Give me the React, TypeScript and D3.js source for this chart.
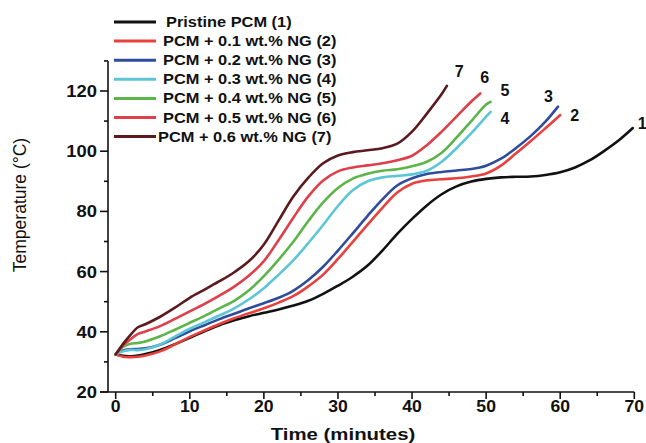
import { useMemo } from "react";
import * as d3 from "d3";

const W = 646;
const H = 443;

// time (minutes), temperature (°C)
const pristine = [[0,32.5],[1,32],[2,31.9],[3,32.1],[4,32.6],[6,34],[8,35.9],[10,38],[12,40.2],[14,42.2],[16,43.8],[18,45.2],[20,46.3],[22,47.4],[24,48.7],[26,50.3],[28,52.6],[30,55.3],[32,58.3],[34,62],[36,67],[38,72.5],[40,77.5],[42,82],[44,85.7],[46,88.3],[48,89.9],[50,90.8],[52,91.3],[54,91.5],[56,91.6],[58,92.1],[60,93],[62,94.6],[64,97],[66,100.2],[68,103.8],[69.8,107.7]];
const ng01 = [[0,32.5],[1,31.7],[2,31.6],[3,31.7],[4,32.1],[6,33.5],[8,35.8],[10,38.3],[12,40.5],[14,42.6],[16,44.5],[18,46.2],[20,47.8],[22,49.7],[24,51.9],[26,55.1],[28,59],[30,64.2],[32,69.9],[34,75.6],[36,81.2],[38,86.3],[40,89.2],[42,90.3],[44,90.7],[46,91],[48,91.6],[50,92.6],[52,95.2],[54,99.2],[56,103.3],[58,107.6],[60,112]];
const ng02 = [[0,32.5],[1,33.8],[2,34.2],[3,34.3],[4,34.5],[6,35.7],[8,37.9],[10,40.2],[12,42.2],[14,44.2],[16,46],[18,47.8],[20,49.5],[22,51.3],[24,53.7],[26,57.2],[28,61.6],[30,67],[32,72.7],[34,78.5],[36,84],[38,88.6],[40,91],[42,92.4],[44,93.1],[46,93.6],[48,94.1],[50,95.2],[52,97.5],[54,101],[56,105],[58,109.8],[59.7,114.8]];
const ng03 = [[0,32.5],[1,33.5],[2,34],[3,33.9],[4,34.2],[6,35.8],[8,38.4],[10,41],[12,43.2],[14,45.4],[16,47.8],[18,50.8],[20,54.5],[22,59],[24,63.8],[26,69.5],[28,75.5],[30,81.8],[32,87],[34,90],[36,91.3],[38,91.8],[40,92.3],[42,93.5],[44,96.5],[46,101],[48,106],[50,111.5],[50.6,113.1]];
const ng04 = [[0,32.5],[1,35],[2,36],[3,36.3],[4,36.8],[6,38.5],[8,40.7],[10,43],[12,45.3],[14,47.8],[16,50.3],[18,53.8],[20,58.5],[22,64],[24,70],[26,76.8],[28,83],[30,87.8],[32,90.9],[34,92.5],[36,93.5],[38,94],[40,95],[42,96.5],[44,99.5],[46,104.5],[48,110],[50,115.5],[50.6,116.4]];
const ng05 = [[0,32.5],[1,35.5],[2,37.5],[3,39.3],[4,40.1],[6,41.9],[8,44.3],[10,46.8],[12,49.3],[14,52],[16,55],[18,58.7],[20,63.5],[22,70.5],[24,78],[26,85],[28,90.3],[30,93.3],[32,94.6],[34,95.3],[36,96],[38,97],[40,98.5],[42,102],[44,106.5],[46,111.5],[48,116.5],[49.2,119.2]];
const ng06 = [[0,32.5],[1,36],[2,39],[3,41.5],[4,42.5],[6,45],[8,48],[10,51.3],[12,54],[14,56.8],[16,59.8],[18,63.5],[20,69],[22,77],[24,85],[26,91.2],[28,96],[30,98.6],[32,99.7],[34,100.3],[36,101],[38,102.5],[40,106.5],[42,112.5],[44,119],[44.7,121.7]];

const seriesNames = [
  "Pristine PCM (1)",
  "PCM + 0.1 wt.% NG (2)",
  "PCM + 0.2 wt.% NG (3)",
  "PCM + 0.3 wt.% NG (4)",
  "PCM + 0.4 wt.% NG (5)",
  "PCM + 0.5 wt.% NG (6)",
  "PCM + 0.6 wt.% NG (7)",
];
const endLabels = ["1", "2", "3", "4", "5", "6", "7"];
const colors = ["#111111", "#e8403c", "#2f4c9c", "#5cc6d6", "#5cb548", "#df3f4b", "#5a1a1e"];
const allSeries = [pristine, ng01, ng02, ng03, ng04, ng05, ng06];

const xTicks = [0, 10, 20, 30, 40, 50, 60, 70];
const xMinor = [5, 15, 25, 35, 45, 55, 65];
const yTicks = [20, 40, 60, 80, 100, 120];
const yMinor = [30, 50, 70, 90, 110, 130];

// where the number sits relative to the curve end (px)
const labelOffset = [[5, 1], [10, 6], [-14, -5], [10, 12], [10, -6], [0, -10], [8, -9]];

const FONT = "'Liberation Sans', Arial, sans-serif";

const App = () => {
  const x = useMemo(() => d3.scaleLinear().domain([0, 70]).range([115.7, 634.3]), []);
  const y = useMemo(() => d3.scaleLinear().domain([20, 120]).range([392, 91]), []);

  const line = d3
    .line<number[]>()
    .x((d) => x(d[0]))
    .y((d) => y(d[1]))
    .curve(d3.curveCatmullRom.alpha(0.5));

  const axisX = 108;
  const axisY = y(20);

  return (
    <svg width={W} height={H} style={{ position: "absolute", left: 0, top: 0, background: "#fff" }}>
      {/* curves */}
      {allSeries.map((s, i) => (
        <path key={i} d={line(s) || ""} fill="none" stroke={colors[i]} strokeWidth={2.6} strokeLinejoin="round" strokeLinecap="round" />
      ))}

      {/* end labels */}
      {allSeries.map((s, i) => {
        const last = s[s.length - 1];
        return (
          <text key={i} x={x(last[0]) + labelOffset[i][0]} y={y(last[1]) + labelOffset[i][1]}
            fontFamily={FONT} fontWeight="bold" fontSize={16} fill="#111">{endLabels[i]}</text>
        );
      })}

      {/* axes */}
      <g stroke="#111" strokeWidth={1.6}>
        <line x1={axisX} x2={axisX} y1={y(130)} y2={axisY} />
        <line x1={axisX - 8} x2={x(70)} y1={axisY} y2={axisY} />
        {yTicks.map((t) => <line key={t} x1={axisX - 8} x2={axisX} y1={y(t)} y2={y(t)} />)}
        {yMinor.map((t) => <line key={t} x1={axisX - 4} x2={axisX} y1={y(t)} y2={y(t)} />)}
        {xTicks.map((t) => <line key={t} x1={x(t)} x2={x(t)} y1={axisY} y2={axisY + 7} />)}
        {xMinor.map((t) => <line key={t} x1={x(t)} x2={x(t)} y1={axisY} y2={axisY + 4} />)}
      </g>
      {yTicks.map((t) => (
        <g key={t} transform={`translate(${axisX - 11},${y(t) + 6}) scale(1.15,1)`}>
          <text textAnchor="end" fontFamily={FONT} fontWeight="bold" fontSize={16} fill="#111">{t}</text>
        </g>
      ))}
      {xTicks.map((t) => (
        <g key={t} transform={`translate(${x(t)},${axisY + 19.5}) scale(1.1,1)`}>
          <text textAnchor="middle" fontFamily={FONT} fontWeight="bold" fontSize={16} fill="#111">{t}</text>
        </g>
      ))}

      {/* axis titles */}
      <g transform={`translate(343,440) scale(1.2,1)`}>
        <text textAnchor="middle" fontFamily={FONT} fontWeight="bold" fontSize={17} fill="#111">Time (minutes)</text>
      </g>
      <text transform="translate(26,205) rotate(-90)" textAnchor="middle" fontFamily={FONT} fontSize={17.5} fill="#111">
        Temperature (°C)
      </text>

      {/* legend */}
      {seriesNames.map((n, i) => {
        const ly = 22 + i * 19.1;
        return (
          <g key={n}>
            <line x1={114} x2={156} y1={ly} y2={ly} stroke={colors[i]} strokeWidth={3} />
            <g transform={`translate(${i === 0 ? 166 : i === 6 ? 158 : 163},${ly + 5}) scale(1.13,1)`}>
              <text fontFamily={FONT} fontWeight="bold" fontSize={14.5} fill="#111">{n}</text>
            </g>
          </g>
        );
      })}
    </svg>
  );
};

export default App;
